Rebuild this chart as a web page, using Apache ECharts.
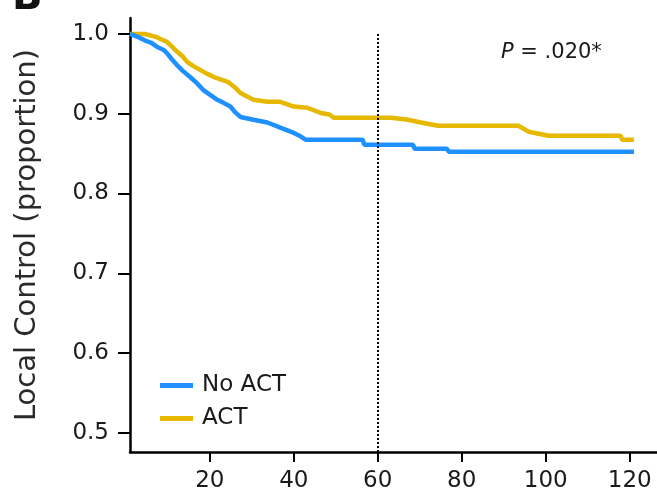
<!DOCTYPE html>
<html>
<head>
<meta charset="UTF-8">
<title>Local Control</title>
<script src="https://cdn.jsdelivr.net/npm/echarts@6/dist/echarts.min.js"></script>
<style>
  html, body { margin: 0; padding: 0; background: #fff; }
  #main { width: 657px; height: 496px; }
</style>
</head>
<body>
<div id="main"></div>
<script type="text/javascript">
    // months and proportion (drops kept as near-vertical pairs)
    var noActX = [1, 3, 4.5, 6, 7.4, 9, 9.8, 11, 12.2, 13.5, 15.3, 17, 18.4, 20, 21.8, 23.5, 24.9, 26, 27.3, 30.4, 33.7, 36.8, 40, 41.5, 42.8, 56.4, 56.8, 68.4, 68.8, 76.5, 76.9, 121];
    var noActY = [1.0, 0.996, 0.992, 0.989, 0.984, 0.98, 0.976, 0.968, 0.961, 0.954, 0.946, 0.938, 0.93, 0.924, 0.9175, 0.913, 0.909, 0.902, 0.896, 0.8925, 0.889, 0.8825, 0.876, 0.872, 0.8675, 0.8675, 0.861, 0.861, 0.856, 0.856, 0.8525, 0.8525];

    var actX = [1, 4.5, 6, 7.4, 8.5, 9.8, 11, 12.2, 13.5, 14.6, 16, 17.7, 19.4, 21, 24.3, 26, 27.3, 30.4, 33.7, 36.8, 40, 43.2, 46.4, 48.5, 49.5, 63.2, 67.2, 70.3, 74.4, 93.5, 95.9, 100.7, 117.8, 118.2, 121];
    var actY = [1.0, 1.0, 0.998, 0.996, 0.993, 0.99, 0.984, 0.978, 0.972, 0.965, 0.96, 0.955, 0.95, 0.946, 0.94, 0.933, 0.926, 0.9175, 0.915, 0.915, 0.909, 0.9075, 0.901, 0.899, 0.895, 0.895, 0.8925, 0.889, 0.885, 0.885, 0.8775, 0.8725, 0.8725, 0.8675, 0.8675];

    var xTicks = [20, 40, 60, 80, 100, 120];
    var yTicks = [0.5, 0.6, 0.7, 0.8, 0.9, 1.0];
    var cutoff = 60;

    function pairs(xs, ys) {
        var out = [];
        for (var i = 0; i < xs.length; i++) out.push([xs[i], ys[i]]);
        return out;
    }

    var font = 'DejaVu Sans';
    var ink = '#1a1a1a';
    var myChart = echarts.init(document.getElementById('main'));

    var option = {
        animation: false,
        grid: { left: 130, right: 0, top: 18, bottom: 44 },
        legend: {
            orient: 'vertical',
            left: 155,
            top: 369,
            icon: 'rect',
            itemWidth: 33,
            itemHeight: 5,
            itemGap: 10,
            textStyle: { fontFamily: font, fontSize: 23, color: ink, padding: [0, 0, 0, 4] },
            data: ['No ACT', 'ACT']
        },
        xAxis: {
            type: 'value',
            min: 1,
            max: 126.5,
            splitLine: { show: false },
            axisLine: { lineStyle: { color: '#000', width: 2.5 } },
            axisTick: { customValues: xTicks, length: 10, lineStyle: { color: '#000', width: 2 } },
            axisLabel: { customValues: xTicks, margin: 18, fontFamily: font, fontSize: 23, color: ink }
        },
        yAxis: {
            type: 'value',
            min: 0.476,
            max: 1.02,
            name: 'Local Control (proportion)',
            nameLocation: 'middle',
            nameGap: 88,
            nameTextStyle: { fontFamily: font, fontSize: 29, color: '#2a2a2a' },
            splitLine: { show: false },
            axisLine: { lineStyle: { color: '#000', width: 2.5 } },
            axisTick: { customValues: yTicks, length: 12, lineStyle: { color: '#000', width: 2 } },
            axisLabel: {
                customValues: yTicks, margin: 21, fontFamily: font, fontSize: 23, color: ink,
                formatter: function (v) { return v.toFixed(1); }
            }
        },
        graphic: [
            {
                type: 'text', left: 501, top: 42,
                style: {
                    text: '{i|P} = .020*',
                    fontFamily: font, fontSize: 21, fill: ink,
                    rich: { i: { fontFamily: font, fontSize: 21, fontStyle: 'italic', fill: ink } }
                }
            },
            {
                type: 'text', left: 12, top: -21,
                style: { text: 'B', fontFamily: font, fontSize: 40, fontWeight: 'bold', fill: '#111' }
            }
        ],
        series: [
            {
                name: 'No ACT',
                type: 'line',
                showSymbol: false,
                color: '#1E90FF',
                lineStyle: { width: 4.5 },
                data: pairs(noActX, noActY),
                z: 3
            },
            {
                name: 'ACT',
                type: 'line',
                showSymbol: false,
                color: '#E6B800',
                lineStyle: { width: 4.5 },
                data: pairs(actX, actY),
                z: 2,
                markLine: {
                    silent: true,
                    symbol: 'none',
                    label: { show: false },
                    lineStyle: { color: '#000', type: [2, 2], width: 2 },
                    data: [[{ coord: [cutoff, 1.0] }, { coord: [cutoff, 0.476] }]]
                }
            }
        ]
    };
    myChart.setOption(option);
</script>
</body>
</html>
